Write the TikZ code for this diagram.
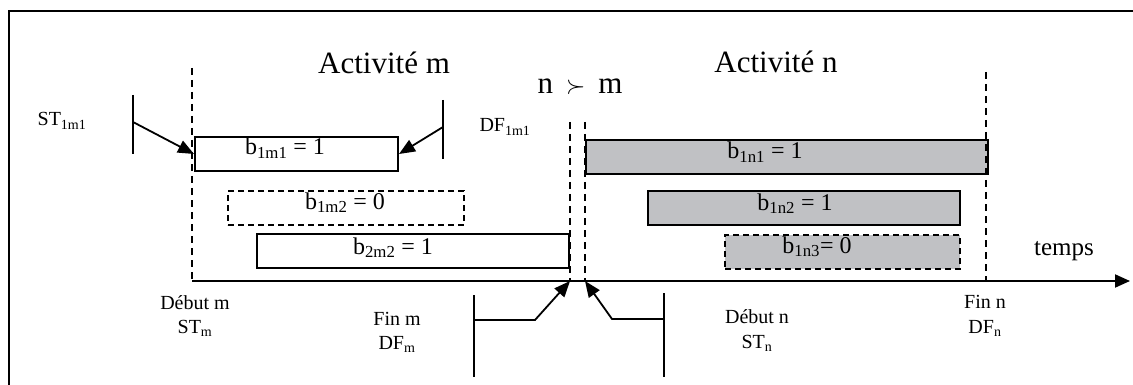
\documentclass[tikz,border=0pt]{standalone}
\usepackage{fontspec}
\setmainfont{Liberation Serif}
\usepackage{tikz}
\usetikzlibrary{arrows.meta, positioning}
\definecolor{bargray}{RGB}{192,193,196}
\newcommand{\ix}[1]{\textsubscript{#1}}
\tikzset{
  bar/.style={
    rectangle, draw, line width=2pt, anchor=north west,
    inner sep=0pt, minimum height=34pt
  },
  barn/.style={bar, fill=bargray},
  optional/.style={dash pattern=on 6pt off 4pt},
  limit/.style={line width=1.7pt, dash pattern=on 7pt off 5pt},
  tick/.style={line width=1.8pt},
  pointer/.style={line width=1.8pt, -{Triangle[length=16pt, width=13pt]}},
  axis/.style={line width=2pt, -{Triangle[length=15pt, width=13pt]}},
  title/.style={anchor=base, inner sep=0pt, font=\fontsize{31}{36}\selectfont},
  bartext/.style={anchor=base, inner sep=0pt, font=\fontsize{24}{28}\selectfont},
  small/.style={anchor=base, inner sep=0pt, font=\fontsize{20}{24}\selectfont},
}

\begin{document}
\begin{tikzpicture}[x=1pt, y=-1pt]
  \useasboundingbox (0,0) rectangle (1133,385);
  \draw[line width=2pt] (1133,11) -- (9,11) -- (9,385);

  % titres
  \node (actm)  [title] at (384,74) {Activité m};
  \node (prec)  [title] at (580,94) {n\, $\succ$\, m};
  \node (actn)  [title] at (776,73) {Activité n};

  % barres activite m
  \node (b1m1) [bar, minimum width=203pt] at (194,136) {};
  \node (b1m2) [bar, optional, minimum width=236pt] at (227,190) {};
  \node (b2m2) [bar, minimum width=312pt] at (256,233) {};
  \node (t1m1) [bartext] at (285,155) {b\ix{1m1} = 1};
  \node (t1m2) [bartext] at (345,209) {b\ix{1m2} = 0};
  \node (t2m2) [bartext] at (393,254) {b\ix{2m2} = 1};

  % barres activite n
  \node (b1n1) [barn, minimum width=402pt] at (585,139) {};
  \node (b1n2) [barn, minimum width=312pt] at (647,190) {};
  \node (b1n3) [barn, optional, minimum width=235pt] at (724,234) {};
  \node (t1n1) [bartext] at (765,159) {b\ix{1n1} = 1};
  \node (t1n2) [bartext] at (795,210) {b\ix{1n2} = 1};
  \node (t1n3) [bartext] at (817,253) {b\ix{1n3}= 0};

  % axe du temps
  \coordinate (origin) at (192,281);
  \coordinate (tend)   at (1130,281);
  \draw[axis] (origin) -- (tend);
  \node (temps) [font=\fontsize{25}{30}\selectfont, anchor=base, inner sep=0pt] at (1064,255) {temps};

  % limites
  \coordinate (stmtop) at (192,68);
  \coordinate (dfmtop) at (570,122);
  \coordinate (dfmbot) at (570,281);
  \coordinate (stntop) at (585,122);
  \coordinate (stnbot) at (585,281);
  \coordinate (dfntop) at (986,72);
  \coordinate (dfnbot) at (986,281);
  \draw[limit] (stmtop) -- (origin);
  \draw[limit] (dfmtop) -- (dfmbot);
  \draw[limit] (stntop) -- (stnbot);
  \draw[limit] (dfntop) -- (dfnbot);

  \node (debm)  [small] at (195,309) {Début m};
  \node (stm)   [small] at (195,333) {ST\ix{m}};
  \node (finm)  [small] at (397,325) {Fin m};
  \node (dfm)   [small] at (397,349) {DF\ix{m}};
  \node (debn)  [small] at (757,323) {Début n};
  \node (stn)   [small] at (757,348) {ST\ix{n}};
  \node (finn)  [small] at (985,308) {Fin n};
  \node (dfn)   [small] at (985,333) {DF\ix{n}};

  % contraintes sur b1m1
  \node (st1m1) [small] at (62,126) {ST\ix{1m1}};
  \node (df1m1) [small] at (505,132) {DF\ix{1m1}};
  \coordinate (st1m1top) at (133,95);
  \coordinate (st1m1bot) at (133,154);
  \coordinate (st1m1mid) at (133,122);
  \coordinate (df1m1top) at (443,100);
  \coordinate (df1m1bot) at (443,159);
  \coordinate (df1m1mid) at (443,127);
  \draw[tick] (st1m1top) -- (st1m1bot);
  \draw[tick] (df1m1top) -- (df1m1bot);
  \draw[pointer] (st1m1mid) -- (b1m1.west);
  \draw[pointer] (df1m1mid) -- (b1m1.east);

  % fin m / debut n
  \coordinate (finmtop)  at (474,295);
  \coordinate (finmbot)  at (474,377);
  \coordinate (finmmid)  at (474,320);
  \coordinate (finmknee) at (535,320);
  \coordinate (debntop)  at (664,293);
  \coordinate (debnbot)  at (664,377);
  \coordinate (debnmid)  at (664,319);
  \coordinate (debnknee) at (612,319);
  \draw[tick] (finmtop) -- (finmbot);
  \draw[tick] (debntop) -- (debnbot);
  \draw[pointer] (finmmid) -- (finmknee) -- (dfmbot);
  \draw[pointer] (debnmid) -- (debnknee) -- (stnbot);
\end{tikzpicture}
\end{document}
